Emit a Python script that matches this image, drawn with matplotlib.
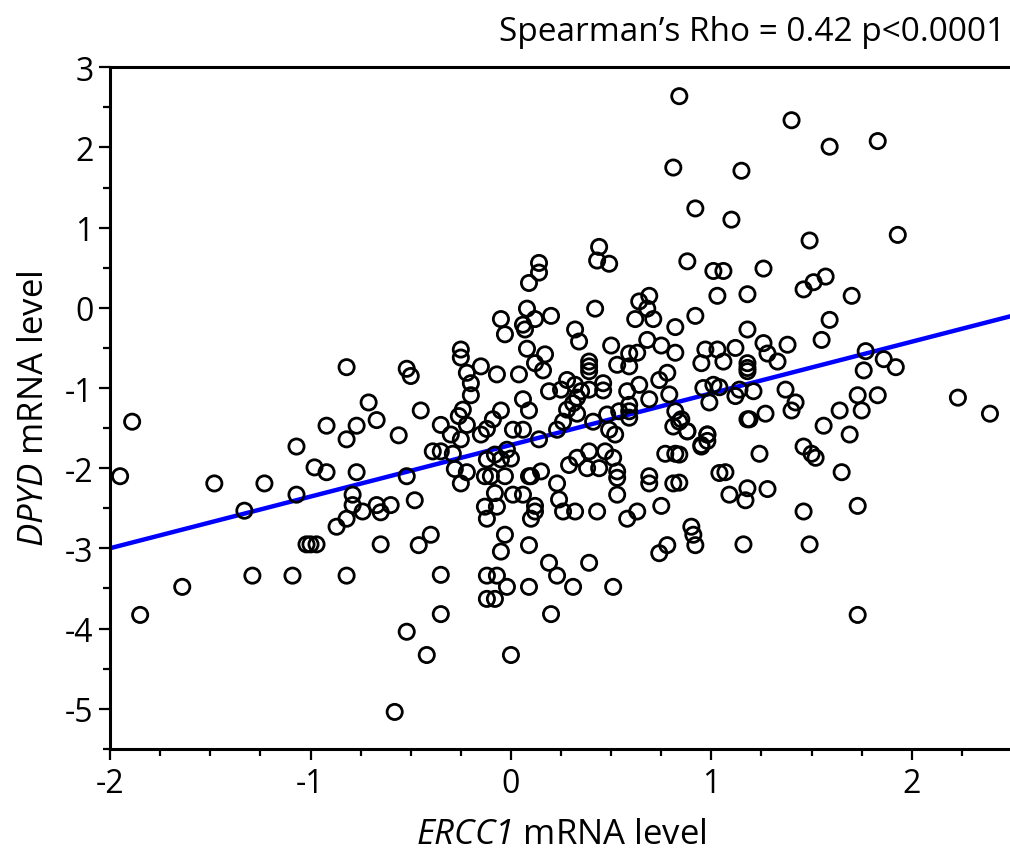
import numpy as np
import matplotlib.pyplot as plt
from matplotlib.ticker import MultipleLocator

# ERCC1 (x) and DPYD (y) mRNA levels
ercc1 = [-1.95, -1.89, -1.85, -1.64, -1.48, -1.33, -1.29, -1.23, -1.09, -1.07,
         -1.07, -1.02, -1.00, -0.97, -0.98, -0.92, -0.92, -0.87, -0.82, -0.82,
         -0.82, -0.82, -0.79, -0.79, -0.77, -0.77, -0.74, -0.71, -0.67, -0.67,
         -0.65, -0.65, -0.60, -0.56, -0.52, -0.50, -0.52, -0.48, -0.45, -0.46,
         -0.52, -0.58, -0.42, -0.40, -0.35, -0.35, -0.39, -0.35, -0.29, -0.28,
         -0.25, -0.22, -0.13, -0.10, -0.12, -0.08, -0.05, 0.00, -0.03, -0.08,
         -0.13, -0.07, -0.12, 0.01, 0.06, -0.03, -0.05, -0.12, -0.07, -0.02,
         -0.12, -0.08, 0.00, 0.09, 0.09, 0.09, 0.10, 0.15, 0.12, 0.12,
         0.10, 0.23, 0.24, 0.26, 0.32, 0.19, 0.23, 0.31, 0.20, 0.43,
         0.39, 0.51, 0.33, 0.39, 0.44, 0.38, 0.47, 0.51, 0.53, 0.53,
         0.53, 0.58, 0.63, 0.69, 0.69, 0.75, 0.74, 0.78, 0.77, 0.82,
         0.81, 0.90, 0.91, 0.92, 0.95, 0.98, 1.04, 0.97, 1.03, 1.12,
         0.95, 1.06, 1.18, 1.18, 1.18, 1.26, 1.28, 1.33, 1.38, 1.55,
         1.77, 1.86, 1.92, 1.76, 0.96, 1.01, 1.04, 0.99, 1.12, 1.14,
         1.21, 0.85, 0.88, 0.98, 0.98, 0.95, 0.84, 0.84, 1.18, 1.19,
         1.27, 1.37, 1.42, 1.40, 1.24, 1.46, 1.50, 1.52, 1.56, 1.64,
         1.69, 1.73, 1.75, 1.83, 2.23, 2.39, 1.07, 1.09, 1.18, 1.17,
         1.28, 1.65, 1.46, 1.73, 1.16, 1.49, 1.73, 0.84, 1.40, 1.59,
         1.83, 0.81, 1.15, 0.92, 1.10, 1.49, 1.93, 0.88, 1.01, 1.06,
         1.26, 1.46, 1.51, 1.57, 1.03, 1.18, 1.70, 0.92, 1.18, 1.59,
         0.44, 0.43, 0.49, 0.14, 0.14, 0.09, 0.42, 0.64, 0.69, 0.68,
         0.62, 0.71, 0.82, -0.05, -0.03, 0.08, 0.12, 0.06, 0.07, 0.20,
         0.32, 0.34, 0.50, 0.59, 0.63, 0.68, 0.75, 0.82, -0.25, -0.25,
         -0.22, -0.15, -0.20, -0.20, -0.07, 0.04, 0.08, 0.12, 0.17, 0.16,
         -0.24, -0.26, -0.22, -0.35, -0.30, -0.25, -0.15, -0.12, -0.09, -0.05,
         -0.02, 0.01, 0.06, 0.06, 0.09, 0.14, 0.23, 0.26, 0.28, 0.19,
         0.25, 0.28, 0.32, 0.35, 0.33, 0.31, 0.39, 0.39, 0.39, 0.39,
         0.46, 0.46, 0.33, 0.41, 0.48, 0.49, 0.52, 0.53, 0.59, 0.58,
         0.64, 0.59, 0.59, 0.59, 0.54, 0.69, 0.74, 0.78, 0.79, 0.82,
         0.84, 0.88, 0.81, 0.29]
dpyd = [-2.10, -1.42, -3.83, -3.48, -2.19, -2.53, -3.34, -2.19, -3.34, -1.73,
        -2.33, -2.95, -2.95, -2.95, -1.99, -2.05, -1.47, -2.73, -0.74, -1.64,
        -2.63, -3.34, -2.33, -2.46, -1.47, -2.05, -2.54, -1.18, -1.40, -2.46,
        -2.55, -2.95, -2.46, -1.59, -0.76, -0.85, -2.10, -2.40, -1.28, -2.96,
        -4.04, -5.04, -4.33, -2.83, -3.33, -3.82, -1.79, -1.79, -1.82, -2.01,
        -2.19, -2.05, -2.10, -2.10, -1.89, -1.83, -1.89, -1.88, -2.10, -2.31,
        -2.48, -2.48, -2.63, -2.33, -2.33, -2.83, -3.04, -3.34, -3.34, -3.48,
        -3.63, -3.63, -4.33, -2.96, -3.48, -2.10, -2.10, -2.04, -2.47, -2.54,
        -2.63, -2.19, -2.39, -2.54, -2.54, -3.18, -3.34, -3.48, -3.82, -2.54,
        -3.18, -3.48, -1.87, -1.79, -2.00, -2.00, -1.79, -1.87, -2.04, -2.12,
        -2.33, -2.63, -2.54, -2.10, -2.19, -2.47, -3.06, -2.96, -1.82, -1.82,
        -2.19, -2.73, -2.83, -2.96, -1.71, -1.58, -2.06, -0.52, -0.52, -0.50,
        -0.69, -0.67, -0.69, -0.75, -0.79, -0.44, -0.57, -0.67, -0.46, -0.40,
        -0.54, -0.64, -0.74, -0.78, -1.00, -0.96, -0.99, -1.18, -1.10, -1.02,
        -1.04, -1.39, -1.54, -1.58, -1.66, -1.73, -1.83, -2.18, -1.39, -1.39,
        -1.32, -1.02, -1.18, -1.28, -1.82, -1.73, -1.82, -1.87, -1.47, -1.28,
        -1.58, -1.09, -1.28, -1.09, -1.12, -1.32, -2.05, -2.33, -2.25, -2.40,
        -2.26, -2.05, -2.54, -2.47, -2.95, -2.95, -3.83, 2.64, 2.34, 2.01,
        2.08, 1.75, 1.71, 1.24, 1.10, 0.84, 0.91, 0.58, 0.46, 0.46,
        0.49, 0.23, 0.32, 0.39, 0.15, 0.17, 0.15, -0.10, -0.27, -0.15,
        0.76, 0.59, 0.55, 0.56, 0.44, 0.31, -0.01, 0.08, 0.15, -0.01,
        -0.14, -0.14, -0.24, -0.14, -0.33, -0.01, -0.14, -0.21, -0.27, -0.10,
        -0.27, -0.42, -0.47, -0.57, -0.56, -0.40, -0.47, -0.56, -0.52, -0.62,
        -0.81, -0.73, -0.94, -1.09, -0.83, -0.83, -0.51, -0.69, -0.58, -0.78,
        -1.27, -1.35, -1.46, -1.46, -1.58, -1.64, -1.58, -1.51, -1.39, -1.28,
        -1.77, -1.52, -1.52, -1.14, -1.28, -1.64, -1.52, -1.42, -1.27, -1.04,
        -1.02, -0.90, -0.96, -1.04, -1.12, -1.19, -0.67, -0.73, -0.79, -1.02,
        -0.94, -1.03, -1.32, -1.42, -1.33, -1.52, -1.58, -0.71, -0.73, -1.04,
        -0.96, -1.21, -1.29, -1.37, -1.29, -1.14, -0.90, -0.81, -1.08, -1.29,
        -1.42, -1.54, -1.48, -1.96]

# fitted regression line
fit_intercept = -1.71
fit_slope = 0.644
x_range = [-2.0, 2.5]

title_text = "Spearman\u2019s Rho = 0.42 p<0.0001"

plt.rcParams['font.family'] = ['Open Sans', 'DejaVu Sans']
plt.rcParams['axes.unicode_minus'] = False
plt.rcParams['mathtext.fontset'] = 'custom'
plt.rcParams['mathtext.sf'] = 'Open Sans:italic'
plt.rcParams['mathtext.rm'] = 'Open Sans'

fig = plt.figure(figsize=(10.1, 8.54), dpi=100)
ax = fig.add_axes([0.109, 0.122, 0.893, 0.798])

ax.scatter(ercc1, dpyd, s=120, facecolors='none', edgecolors='black',
           linewidths=2.0, zorder=3)

xs = np.array(x_range)
ax.plot(xs, fit_intercept + fit_slope * xs, color='#0000ff', lw=3.2, zorder=2)

ax.set_xlim(-2, 2.5)
ax.set_ylim(-5.5, 3)
ax.xaxis.set_major_locator(MultipleLocator(1))
ax.xaxis.set_minor_locator(MultipleLocator(0.25))
ax.yaxis.set_major_locator(MultipleLocator(1))
ax.yaxis.set_minor_locator(MultipleLocator(0.5))

for side in ['left', 'bottom', 'top']:
    ax.spines[side].set_linewidth(2.2)
ax.spines['right'].set_visible(False)

ax.tick_params(which='major', direction='out', length=8, width=1.6,
               labelsize=23, pad=4)
ax.tick_params(which='minor', direction='out', length=5, width=1.6)
ax.tick_params(axis='x', pad=5)

ax.set_xlabel(r'$\mathsf{ERCC1}$ mRNA level', fontsize=25, labelpad=12)
ax.set_ylabel(r'$\mathsf{DPYD}$ mRNA level', fontsize=25, labelpad=10)

fig.text(0.995, 0.962, title_text, ha='right', va='center', fontsize=24)

plt.savefig('out.png', dpi=100)
